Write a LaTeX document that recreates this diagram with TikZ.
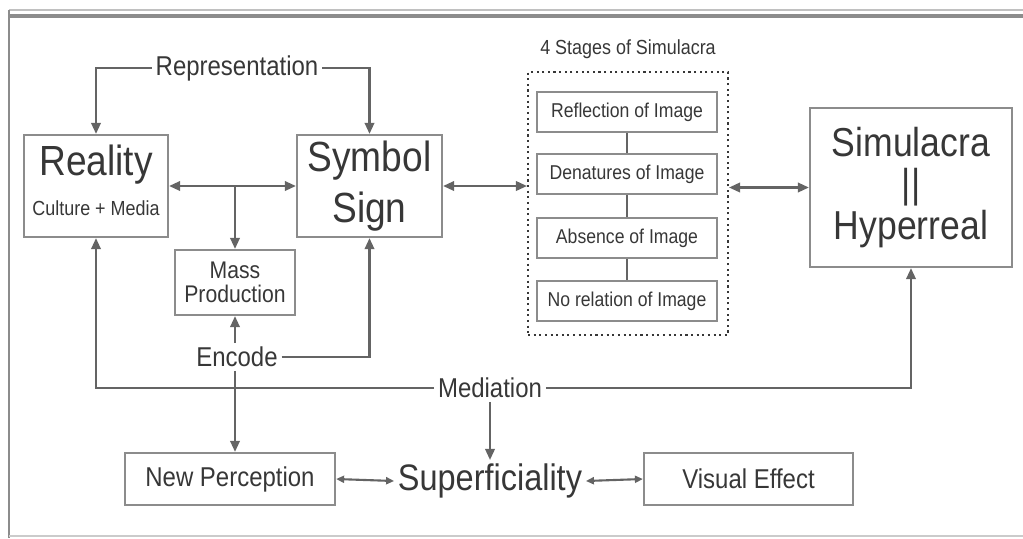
\documentclass[tikz,border=0pt]{standalone}
\usepackage{fontspec}
\setmainfont{Liberation Sans}[FakeStretch=0.88]
\usetikzlibrary{arrows.meta,positioning}
\definecolor{wire}{RGB}{100,100,100}
\definecolor{frame}{RGB}{140,140,140}
\definecolor{ink}{RGB}{55,55,55}
\tikzset{
  >={Triangle[length=2.2mm,width=1.9mm]},
  box/.style={draw=frame,line width=1.3pt,inner sep=0pt,align=center,text=ink},
  stagebox/.style={box,minimum width=3.6cm,minimum height=0.8cm,
    font=\fontsize{11.4}{13}\selectfont},
  tag/.style={text=ink,inner sep=2pt,font=\fontsize{15.5}{17}\selectfont},
  big/.style={text=ink,inner sep=2pt,font=\fontsize{24}{29}\selectfont},
  sub/.style={text=ink,inner sep=1pt,font=\fontsize{11.6}{13}\selectfont},
  flow/.style={->,line width=1.2pt,draw=wire},
  link/.style={line width=1.2pt,draw=wire},
  twoway/.style={<->,line width=1.2pt,draw=wire},
  small tips/.style={{Triangle[length=1.6mm,width=1.4mm]}-{Triangle[length=1.6mm,width=1.4mm]}},
}
\begin{document}
\begin{tikzpicture}[x=0.02cm,y=-0.02cm]
  \useasboundingbox (0,0) rectangle (1023,538);
  % page frame
  \draw[frame!55,line width=0.8pt] (9,10) -- (1023,10);
  \draw[frame,line width=1.8pt] (10,16) -- (1023,16);
  \draw[frame,line width=1.2pt] (9,10) -- (9,538);
  \draw[frame!45,line width=1pt] (9,536) -- (1023,536);

  % boxes
  \node[box,minimum width=2.88cm,minimum height=2.04cm] (reality) at (96,186) {};
  \node[big] (realityname) at (96,165) {Reality};
  \node[sub] (realitysub) at (96,208) {Culture + Media};
  \node[box,big,minimum width=2.9cm,minimum height=2.04cm] (symbol) at (369.5,186) {Symbol\\Sign};
  \node[box,minimum width=2.4cm,minimum height=1.3cm,
    font=\fontsize{13.7}{14}\selectfont] (mass) at (235,282.5) {Mass\\Production};
  \node[box,minimum width=4.04cm,minimum height=3.18cm,
    font=\fontsize{23}{23.5}\selectfont] (simul) at (911,187.5) {Simulacra\\||\\Hyperreal};

  % stages of simulacra
  \node[draw=ink,dotted,line width=1.2pt,minimum width=4cm,minimum height=5.26cm] (stages) at (628,203.5) {};
  \node[sub,above=6pt of stages] (stagestitle) {4 Stages of Simulacra};
  \node[stagebox] (s1) at (627,112) {Reflection of Image};
  \node[stagebox] (s2) at (627,174) {Denatures of Image};
  \node[stagebox] (s3) at (627,238) {Absence of Image};
  \node[stagebox] (s4) at (627,301) {No relation of Image};
  \draw[link] (s1) -- (s2);
  \draw[link] (s2) -- (s3);
  \draw[link] (s3) -- (s4);

  % labels
  \node[tag] (rep) at (237,68) {Representation};
  \node[tag] (enc) at (237,357) {Encode};
  \node[tag] (med) at (490,388) {Mediation};

  % bottom row
  \node[box,tag,minimum width=4.2cm,minimum height=1.04cm] (newperc) at (230,479) {New Perception};
  \node[text=ink,font=\fontsize{21}{24}\selectfont,inner sep=2pt] (sup) at (490,481) {Superficiality};
  \node[box,tag,minimum width=4.18cm,minimum height=1.04cm] (visual) at (748.5,479) {Visual Effect};

  % connectors
  \draw[flow] (rep.west) -| (reality.north);
  \draw[flow] (rep.east) -| (symbol.north);
  \draw[twoway] (reality.east) -- (symbol.west);
  \draw[flow] (reality.east -| mass.north) -- (mass.north);
  \draw[flow] (enc.north -| mass.south) -- (mass.south);
  \draw[flow] (enc.east) -| (symbol.south);
  \draw[flow] (med.west) -| (reality.south);
  \draw[flow] (med.east) -| (simul.south);
  \draw[flow] (enc.south -| mass.south) -- (newperc.north -| mass.south);
  \draw[flow] (med) -- (sup);
  \draw[twoway] (symbol.east) -- (symbol.east -| stages.west);
  \draw[twoway] (simul.west -| stages.east) -- (simul.west);
  \draw[link,small tips] (newperc.east) -- (sup.west);
  \draw[link,small tips] (sup.east) -- (visual.west);
\end{tikzpicture}
\end{document}
